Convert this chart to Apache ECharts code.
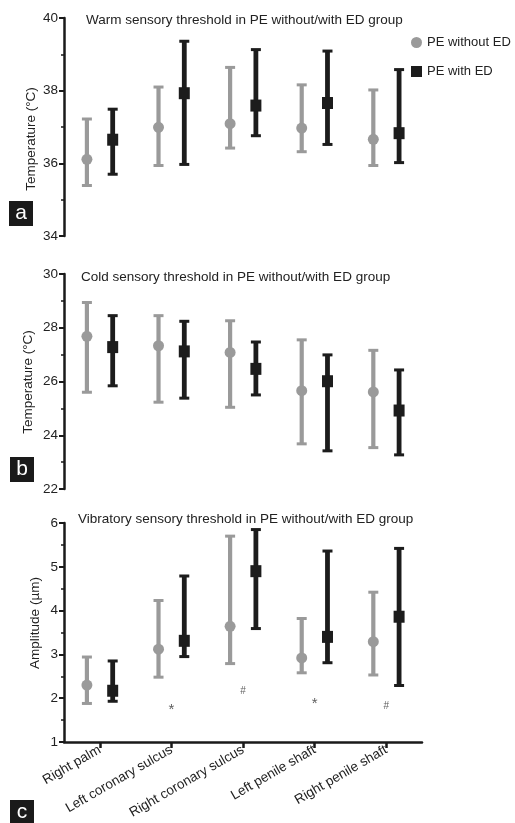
<!DOCTYPE html>
<html>
<head>
<meta charset="utf-8">
<script src="https://cdn.jsdelivr.net/npm/echarts@6/dist/echarts.min.js"></script>
<style>html,body{margin:0;padding:0;background:#fff;}#c{width:515px;height:823px;}</style>
</head>
<body>
<div id="c"></div>
<script>
const categories = ['Right palm', 'Left coronary sulcus', 'Right coronary sulcus', 'Left penile shaft', 'Right penile shaft'];

// Panel a: warm threshold (°C) — mean, lower, upper
const warmWithoutMean = [36.11, 36.99, 37.09, 36.97, 36.66];
const warmWithoutLow  = [35.39, 35.94, 36.42, 36.32, 35.94];
const warmWithoutHigh = [37.22, 38.10, 38.64, 38.16, 38.02];
const warmWithMean    = [36.65, 37.93, 37.59, 37.66, 36.83];
const warmWithLow     = [35.70, 35.97, 36.76, 36.52, 36.02];
const warmWithHigh    = [37.49, 39.36, 39.13, 39.09, 38.58];

// Panel b: cold threshold (°C)
const coldWithoutMean = [27.68, 27.33, 27.08, 25.66, 25.61];
const coldWithoutLow  = [25.60, 25.23, 25.04, 23.68, 23.54];
const coldWithoutHigh = [28.94, 28.45, 28.26, 27.55, 27.16];
const coldWithMean    = [27.28, 27.12, 26.47, 26.01, 24.92];
const coldWithLow     = [25.84, 25.38, 25.50, 23.42, 23.27];
const coldWithHigh    = [28.45, 28.24, 27.47, 26.99, 26.43];

// Panel c: vibratory threshold (µm)
const vibWithoutMean = [2.30, 3.12, 3.64, 2.92, 3.29];
const vibWithoutLow  = [1.88, 2.48, 2.79, 2.58, 2.53];
const vibWithoutHigh = [2.94, 4.23, 5.70, 3.82, 4.42];
const vibWithMean    = [2.17, 3.31, 4.90, 3.40, 3.86];
const vibWithLow     = [1.93, 2.95, 3.59, 2.81, 2.29];
const vibWithHigh    = [2.85, 4.79, 5.85, 5.36, 5.42];

// Significance marks in panel c
const sigCategory = [1, 2, 3, 4];
const sigSymbol   = ['*', '#', '*', '#'];
const sigValue    = [1.74, 2.16, 1.88, 1.82];

const yTicksA = {min: 34, max: 40, interval: 2};
const yTicksB = {min: 22, max: 30, interval: 2};
const yTicksC = {min: 1, max: 6, interval: 1};

const GRAY = '#9a9a9a', BLACK = '#1c1c1c', AXIS = '#1a1a1a';

function build(mean, low, high) {
  return mean.map((m, i) => [i, m, low[i], high[i]]);
}

function errRender(offsetFrac, color, shape, lw) {
  return function (params, api) {
    const idx = api.value(0);
    const bw = api.size([1, 0])[0];
    const pm = api.coord([idx, api.value(1)]);
    const x = pm[0] + offsetFrac * bw;
    const yLo = api.coord([idx, api.value(2)])[1];
    const yHi = api.coord([idx, api.value(3)])[1];
    const cap = 5;
    const children = [
      {type: 'line', shape: {x1: x, y1: yLo, x2: x, y2: yHi}, style: {stroke: color, lineWidth: lw}},
      {type: 'line', shape: {x1: x - cap, y1: yHi, x2: x + cap, y2: yHi}, style: {stroke: color, lineWidth: 3}},
      {type: 'line', shape: {x1: x - cap, y1: yLo, x2: x + cap, y2: yLo}, style: {stroke: color, lineWidth: 3}}
    ];
    if (shape === 'circle') {
      children.push({type: 'circle', shape: {cx: x, cy: pm[1], r: 5.5}, style: {fill: color}});
    } else {
      children.push({type: 'rect', shape: {x: x - 5.5, y: pm[1] - 6, width: 11, height: 12}, style: {fill: color}});
    }
    return {type: 'group', children: children};
  };
}

const grids = [
  {left: 64, right: 93, top: 18, height: 218},
  {left: 64, right: 93, top: 274, height: 215},
  {left: 64, right: 93, top: 523, height: 219}
];

function yAxis(idx, t) {
  return {
    type: 'value', gridIndex: idx, min: t.min, max: t.max, interval: t.interval,
    axisLine: {show: true, lineStyle: {color: AXIS, width: 2.5}},
    axisTick: {show: true, length: 5, lineStyle: {color: AXIS, width: 2}},
    minorTick: {show: true, splitNumber: 2, length: 3, lineStyle: {color: AXIS, width: 1.5}},
    splitLine: {show: false},
    axisLabel: {fontSize: 13.5, color: '#222', margin: 6, fontFamily: 'Liberation Sans'}
  };
}

function hiddenX(idx) {
  return {
    type: 'category', gridIndex: idx, data: categories,
    axisLine: {show: false}, axisTick: {show: false}, axisLabel: {show: false}, splitLine: {show: false}
  };
}

const series = [];
const panels = [
  [warmWithoutMean, warmWithoutLow, warmWithoutHigh, warmWithMean, warmWithLow, warmWithHigh],
  [coldWithoutMean, coldWithoutLow, coldWithoutHigh, coldWithMean, coldWithLow, coldWithHigh],
  [vibWithoutMean, vibWithoutLow, vibWithoutHigh, vibWithMean, vibWithLow, vibWithHigh]
];
panels.forEach((p, i) => {
  series.push({
    type: 'custom', name: 'PE without ED', xAxisIndex: i, yAxisIndex: i,
    itemStyle: {color: GRAY}, renderItem: errRender(-0.18, GRAY, 'circle', 4.2),
    data: build(p[0], p[1], p[2]), encode: {x: 0, y: [1, 2, 3]}
  });
  series.push({
    type: 'custom', name: 'PE with ED', xAxisIndex: i, yAxisIndex: i,
    itemStyle: {color: BLACK}, renderItem: errRender(0.18, BLACK, 'rect', 4.8),
    data: build(p[3], p[4], p[5]), encode: {x: 0, y: [1, 2, 3]}
  });
});

series.push({
  type: 'scatter', xAxisIndex: 2, yAxisIndex: 2, symbolSize: 0, silent: true,
  data: sigCategory.map((c, i) => ({
    value: [c, sigValue[i]],
    label: {formatter: sigSymbol[i], fontSize: sigSymbol[i] === '*' ? 15 : 10}
  })),
  label: {show: true, position: 'inside', color: '#333', fontFamily: 'Liberation Sans'}
});

function panelTag(letter, x, y) {
  return {
    type: 'group', left: x, top: y,
    children: [
      {type: 'rect', shape: {x: 0, y: 0, width: 24, height: 25}, style: {fill: '#1a1a1a'}},
      {type: 'text', style: {text: letter, x: 12, y: 12, align: 'center', verticalAlign: 'middle', fill: '#fff', font: '21px "Liberation Sans"'}}
    ]
  };
}

function yTitle(text, x, y) {
  return {
    type: 'text', x: x, y: y, rotation: Math.PI / 2,
    style: {text: text, align: 'center', verticalAlign: 'middle', fill: '#222', font: '13.5px "Liberation Sans"'}
  };
}

function pTitle(text, x, y) {
  return {
    type: 'text', x: x, y: y,
    style: {text: text, align: 'left', verticalAlign: 'middle', fill: '#222', font: '13.5px "Liberation Sans"'}
  };
}

const option = {
  animation: false,
  backgroundColor: '#fff',
  grid: grids,
  xAxis: [
    hiddenX(0), hiddenX(1),
    {
      type: 'category', gridIndex: 2, data: categories,
      axisLine: {show: true, lineStyle: {color: AXIS, width: 2.5}},
      axisTick: {show: true, alignWithLabel: true, length: 6, lineStyle: {color: AXIS, width: 2.5}},
      axisLabel: {rotate: 30, fontSize: 13.5, color: '#222', margin: 7, fontFamily: 'Liberation Sans', interval: 0}
    }
  ],
  yAxis: [yAxis(0, yTicksA), yAxis(1, yTicksB), yAxis(2, yTicksC)],
  legend: {
    data: [{name: 'PE without ED', icon: 'circle'}, {name: 'PE with ED', icon: 'rect'}],
    orient: 'vertical', left: 411, top: 36, itemWidth: 11, itemHeight: 11, itemGap: 16, padding: 0,
    textStyle: {fontSize: 13, color: '#222', fontFamily: 'Liberation Sans'}
  },
  graphic: [
    pTitle('Warm sensory threshold in PE without/with ED group', 86, 20),
    pTitle('Cold sensory threshold in PE without/with ED group', 81, 277),
    pTitle('Vibratory sensory threshold in PE without/with ED group', 78, 519),
    yTitle('Temperature (°C)', 31, 139),
    yTitle('Temperature (°C)', 28, 382),
    yTitle('Amplitude (µm)', 35, 623),
    panelTag('a', 9, 201),
    panelTag('b', 10, 457),
    panelTag('c', 10, 800)
  ],
  series: series
};

const chart = echarts.init(document.getElementById('c'), null, {renderer: 'canvas'});
chart.setOption(option);
</script>
</body>
</html>
